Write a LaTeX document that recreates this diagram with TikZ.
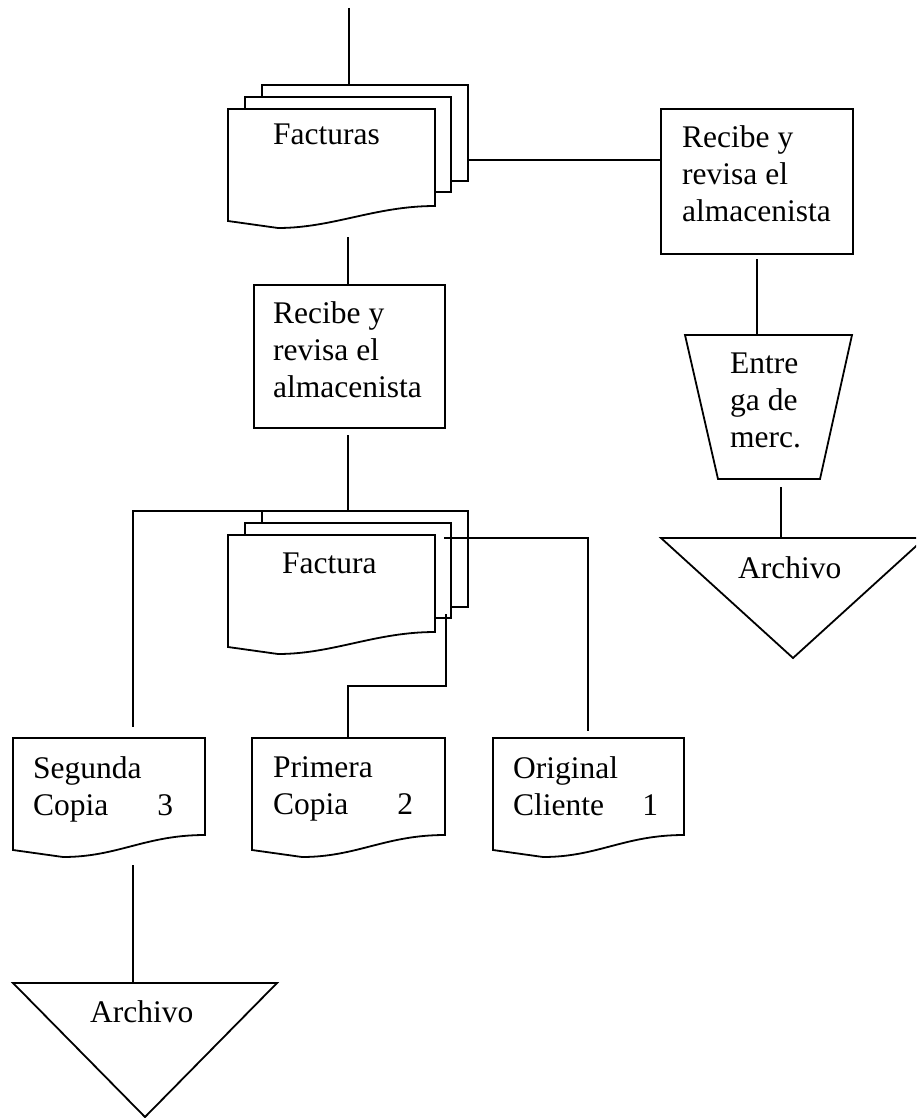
\documentclass[tikz,border=0pt]{standalone}
\usepackage{fontspec}
\setmainfont{Liberation Serif}

% outline of a single document symbol: left x, top y, right x
\newcommand{\docoutline}[3]{(#1,#2) -- (#3,#2) -- (#3,#2+97)
  .. controls (#3-60,#2+97) and (#1+105,#2+119) .. (#1+50,#2+119)
  -- (#1,#2+112) -- cycle}
% stack of three documents: two plain sheets behind a front document
\newcommand{\multidoc}[3]{%
  \path[shape line] (#1+34,#2-24) rectangle (#3+33,#2+72);
  \path[shape line] (#1+17,#2-12) rectangle (#3+16,#2+83);
  \path[shape line] \docoutline{#1}{#2}{#3};
}

\tikzset{
  shape line/.style={draw=black, line width=1.8pt, fill=white, line join=miter},
  link/.style={draw=black, line width=1.8pt},
  label text/.style={font=\fontsize{31.5}{37}\selectfont, inner sep=0pt, align=left},
}

\begin{document}
\begin{tikzpicture}[x=1pt,y=-1pt]
\useasboundingbox (0,0) rectangle (916,1118);
\clip (0,0) rectangle (916,1118);

% ---- shapes ----
\multidoc{228}{109}{435}
\node[shape line, rectangle, anchor=north west, minimum width=191pt,
      minimum height=143pt, inner sep=0pt] (mid) at (253,284) {};
\node[shape line, rectangle, anchor=north west, minimum width=192pt,
      minimum height=145pt, inner sep=0pt] (rbox) at (660,108) {};
\multidoc{228}{535}{435}
\path[shape line] \docoutline{13}{738}{205};
\path[shape line] \docoutline{252}{738}{445};
\path[shape line] \docoutline{493}{738}{684};
\path[shape line] (685,335) -- (852,335) -- (820,479) -- (718,479) -- cycle;
\path[shape line] (661,538) -- (925,538) -- (793,658) -- cycle;
\path[shape line] (13,983) -- (277,983) -- (145,1117) -- cycle;

% ---- connection points ----
\coordinate (inflow)   at (349,8);
\coordinate (fsTop)    at (349,84);
\coordinate (fsRight)  at (468,160);
\coordinate (fsBelow)  at (348,237);
\coordinate (midOut)   at (348,435);
\coordinate (fTop)     at (348,511);
\coordinate (fLeft)    at (262,511);
\coordinate (segIn)    at (133,727);
\coordinate (fFront)   at (444,538);
\coordinate (oriIn)    at (588,731);
\coordinate (fMidOut)  at (446,614);
\coordinate (priTop)   at (348,738);
\coordinate (segOut)   at (133,865);
\coordinate (archLTop) at (133,983);
\coordinate (rOut)     at (757,259);
\coordinate (trapTop)  at (757,335);
\coordinate (trapOut)  at (781,487);
\coordinate (archRTop) at (781,538);

% ---- connectors ----
\draw[link] (inflow) -- (fsTop);
\draw[link] (fsRight) -- (fsRight -| rbox.west);
\draw[link] (fsBelow) -- (fsBelow |- mid.north);
\draw[link] (midOut) -- (fTop);
\draw[link] (fLeft) -- (fLeft -| segIn) -- (segIn);
\draw[link] (fFront) -- (fFront -| oriIn) -- (oriIn);
\draw[link] (fMidOut) -- (fMidOut |- 0,686) -- (priTop |- 0,686) -- (priTop);
\draw[link] (segOut) -- (archLTop);
\draw[link] (rOut) -- (trapTop);
\draw[link] (trapOut) -- (archRTop);

% ---- texts ----
\node[label text, anchor=base west] (tFacturas) at (273,145) {Facturas};
\node[label text, anchor=base west] (tFactura) at (282,573) {Factura};
\node[label text, anchor=north west] (tMid) at (273,301) {Recibe y\\revisa el\\almacenista};
\node[label text, anchor=north west] (tRbox) at (682,125) {Recibe y\\revisa el\\almacenista};
\node[label text, anchor=north west] (tTrap) at (730,353) {Entre\\ga de\\merc.};
\node[label text, anchor=base west] (tArchR) at (738,578) {Archivo};
\node[label text, anchor=base west] (tArchL) at (90,1022) {Archivo};
\node[label text, anchor=north west, text width=140pt] (tSeg) at (33,756) {Segunda\\Copia\hfill 3};
\node[label text, anchor=north west, text width=140pt] (tPri) at (273,756) {Primera\\Copia\hfill 2};
\node[label text, anchor=north west, text width=145pt] (tOri) at (513,756) {Original\\Cliente\hfill 1};
\end{tikzpicture}
\end{document}
